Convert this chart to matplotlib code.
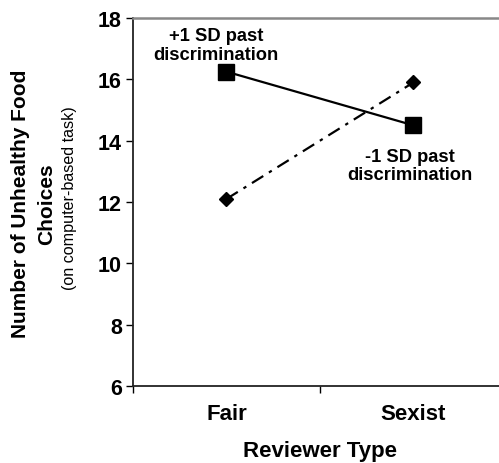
import matplotlib
matplotlib.use("Agg")
import matplotlib.pyplot as plt

plt.rcParams['font.family'] = ['Liberation Sans', 'DejaVu Sans']

# Data
reviewer_types = ['Fair', 'Sexist']
high_past_disc = [16.25, 14.5]   # +1 SD past discrimination
low_past_disc = [12.1, 15.9]     # -1 SD past discrimination
y_ticks = [6, 8, 10, 12, 14, 16, 18]

x_pos = [1, 2]

fig = plt.figure(figsize=(4.99, 4.64), dpi=100)
ax = fig.add_axes([0.2665, 0.166, 0.7495, 0.793])

ax.plot(x_pos, high_past_disc, color='black', linewidth=1.6,
        marker='s', markersize=11, zorder=3)
ax.plot(x_pos, low_past_disc, color='black', linewidth=1.6,
        linestyle=(0, (6, 3, 1.5, 3)), marker='D', markersize=7.5, zorder=3)

ax.set_xlim(0.5, 2.5)
ax.set_ylim(6, 18)
ax.set_yticks(y_ticks)
ax.set_xticks([0.5, 1.5, 2.5])
ax.set_xticklabels([])
ax.set_xticks(x_pos, minor=True)
ax.set_xticklabels(reviewer_types, minor=True, fontsize=16, fontweight='bold')
ax.tick_params(axis='x', which='minor', length=0, pad=12)
ax.tick_params(axis='x', which='major', length=5, width=1, direction='out')
ax.tick_params(axis='y', length=5, width=1, direction='out', labelsize=15.5, pad=3)
for lbl in ax.get_yticklabels():
    lbl.set_fontweight('bold')

ax.spines['right'].set_visible(False)
ax.spines['top'].set_color('#888888')
ax.spines['top'].set_linewidth(1.8)
ax.spines['left'].set_color('#222222')
ax.spines['left'].set_linewidth(1.3)
ax.spines['bottom'].set_color('#222222')
ax.spines['bottom'].set_linewidth(1.3)

ax.text(0.944, 17.12, '+1 SD past\ndiscrimination', ha='center', va='center',
        fontsize=13.2, fontweight='bold', linespacing=1.1)
ax.text(1.98, 13.2, '-1 SD past\ndiscrimination', ha='center', va='center',
        fontsize=13.2, fontweight='bold', linespacing=1.1)

ax.set_xlabel('Reviewer Type', fontsize=16, fontweight='bold', labelpad=12)

fig.text(0.042, 0.56, 'Number of Unhealthy Food', rotation=90, ha='center',
         va='center', fontsize=15, fontweight='bold')
fig.text(0.093, 0.56, 'Choices', rotation=90, ha='center', va='center',
         fontsize=15, fontweight='bold')
fig.text(0.140, 0.572, '(on computer-based task)', rotation=90, ha='center',
         va='center', fontsize=11.6)

fig.savefig('out.png', dpi=100)
